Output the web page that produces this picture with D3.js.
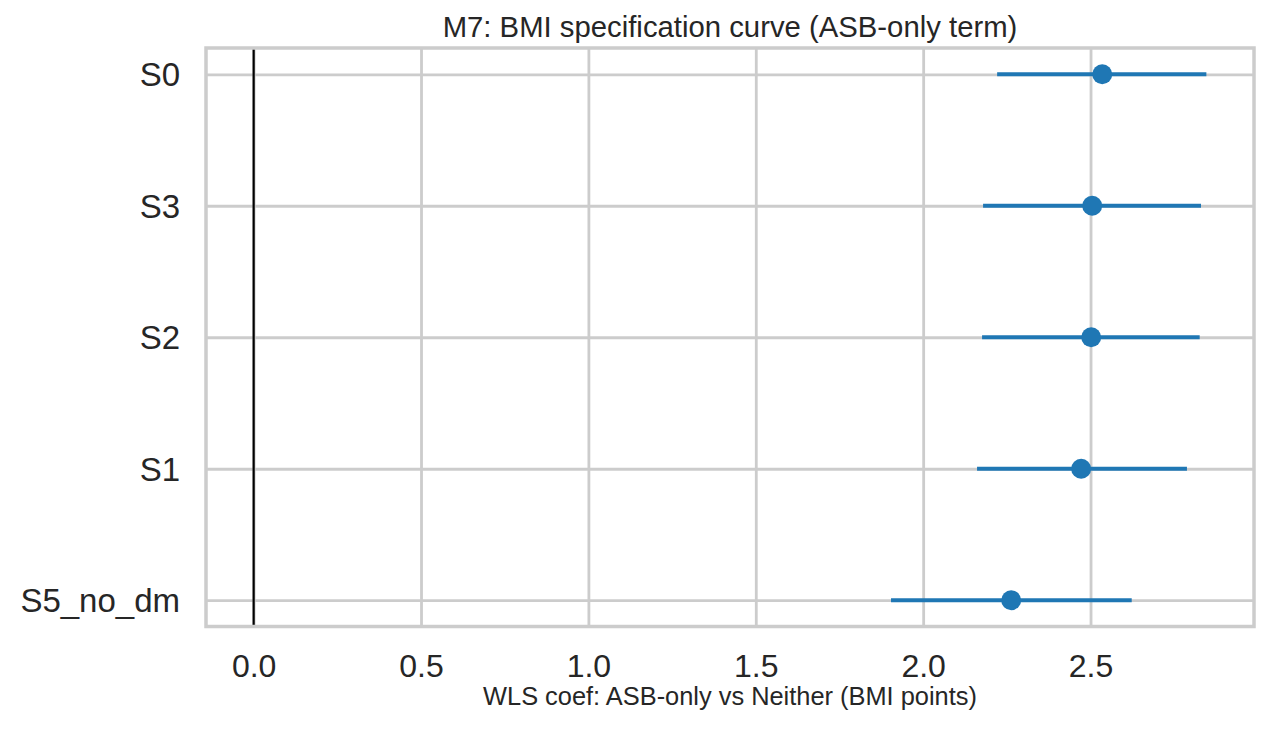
<!DOCTYPE html>
<html>
<head>
<meta charset="utf-8">
<script src="https://cdn.jsdelivr.net/npm/d3@7"></script>
<style>
  body { margin: 0; background: #fff; }
  svg text { font-family: "Liberation Sans", Arial, sans-serif; fill: #262626; }
</style>
</head>
<body>
<div id="scene"></div>
<script>
// specifications, top row first
var specs = ["S0", "S3", "S2", "S1", "S5_no_dm"];
var coef  = [2.535, 2.505, 2.502, 2.472, 2.263];
var ciLow = [2.221, 2.179, 2.176, 2.161, 1.904];
var ciHigh = [2.846, 2.830, 2.826, 2.788, 2.623];
var xTicks = [0.0, 0.5, 1.0, 1.5, 2.0, 2.5];

var ctx = {
  w: 1268,
  h: 730,
  left: 206,
  right: 1254,
  top: 48,
  bottom: 626.5,
  blue: "#1f77b4",
  grid: "#cccccc"
};

var svg = d3.select("#scene").append("svg")
  .attr("width", ctx.w)
  .attr("height", ctx.h);

// x range includes zero, then 5% margin like matplotlib
var xMin = Math.min(0, d3.min(ciLow));
var xMax = d3.max(ciHigh);
var pad = (xMax - xMin) * 0.05;
var x = d3.scaleLinear()
  .domain([xMin - pad, xMax + pad])
  .range([ctx.left, ctx.right]);

var y = d3.scaleLinear()
  .domain([-0.2, specs.length - 1 + 0.2])
  .range([ctx.top, ctx.bottom]);

// grid
var xAxis = svg.append("g")
  .attr("transform", "translate(0," + ctx.bottom + ")")
  .call(d3.axisBottom(x).tickValues(xTicks).tickFormat(d3.format(".1f"))
    .tickSize(-(ctx.bottom - ctx.top)).tickPadding(18));
xAxis.select(".domain").remove();
xAxis.selectAll("line").attr("stroke", ctx.grid).attr("stroke-width", 2.8);
xAxis.selectAll("text").attr("font-size", 32).attr("dy", "0.71em")
  .attr("y", 28);

var yAxis = svg.append("g")
  .attr("transform", "translate(" + ctx.left + ",0)")
  .call(d3.axisLeft(y).tickValues(d3.range(specs.length))
    .tickFormat(function(i) { return specs[i]; })
    .tickSize(-(ctx.right - ctx.left)).tickPadding(26));
yAxis.select(".domain").remove();
yAxis.selectAll("line").attr("stroke", ctx.grid).attr("stroke-width", 2.8);
yAxis.selectAll("text").attr("font-size", 33).attr("dy", "0.35em");

// zero reference
svg.append("line")
  .attr("x1", x(0)).attr("x2", x(0))
  .attr("y1", ctx.top).attr("y2", ctx.bottom)
  .attr("stroke", "black")
  .attr("stroke-width", 2.2);

// frame
svg.append("rect")
  .attr("x", ctx.left).attr("y", ctx.top)
  .attr("width", ctx.right - ctx.left)
  .attr("height", ctx.bottom - ctx.top)
  .attr("fill", "none")
  .attr("stroke", ctx.grid)
  .attr("stroke-width", 3.5);

// intervals and points
var rows = specs.map(function(s, i) {
  return { name: s, i: i, est: coef[i], lo: ciLow[i], hi: ciHigh[i] };
});

svg.append("g").selectAll("line")
  .data(rows)
  .enter()
  .append("line")
  .attr("x1", function(d) { return x(d.lo); })
  .attr("x2", function(d) { return x(d.hi); })
  .attr("y1", function(d) { return y(d.i); })
  .attr("y2", function(d) { return y(d.i); })
  .attr("stroke", ctx.blue)
  .attr("stroke-width", 4);

svg.append("g").selectAll("circle")
  .data(rows)
  .enter()
  .append("circle")
  .attr("cx", function(d) { return x(d.est); })
  .attr("cy", function(d) { return y(d.i); })
  .attr("r", 10)
  .attr("fill", ctx.blue);

// labels
svg.append("text")
  .attr("x", (ctx.left + ctx.right) / 2)
  .attr("y", 37)
  .attr("text-anchor", "middle")
  .attr("font-size", 29.3)
  .text("M7: BMI specification curve (ASB-only term)");

svg.append("text")
  .attr("x", (ctx.left + ctx.right) / 2)
  .attr("y", 705)
  .attr("text-anchor", "middle")
  .attr("font-size", 25.4)
  .text("WLS coef: ASB-only vs Neither (BMI points)");
</script>
</body>
</html>
